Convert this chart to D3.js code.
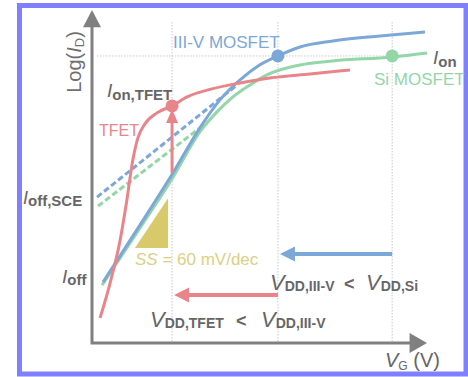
<!DOCTYPE html>
<html><head><meta charset="utf-8">
<script src="https://cdn.jsdelivr.net/npm/d3@7"></script>
<style>html,body{margin:0;padding:0;background:#fff;}svg{display:block;font-family:"Liberation Sans",Arial,sans-serif;}</style>
</head><body>
<script>
// Schematic data in arbitrary units: V_G (0-10) and log(I_D) (0-10)
const blueVG  = [0.33,1.43,2.42,3.22,3.82,4.42,4.96,5.55,6.21,7.19,8.60,9.94];
const blueLog = [1.83,3.54,5.11,6.46,7.30,7.90,8.32,8.62,8.89,9.07,9.22,9.34];
const greenVG  = [0.30,1.43,2.42,3.22,3.73,4.21,4.72,5.22,6.21,7.19,8.96,10.0];
const greenLog = [1.74,3.45,4.98,6.34,6.94,7.39,7.75,8.05,8.35,8.47,8.59,8.71];
const redVG  = [0.24,0.54,0.84,1.04,1.22,1.37,1.58,1.94,2.39,2.84,3.58,4.42,5.31,6.51,7.70];
const redLog = [0.75,1.80,3.09,4.29,5.50,6.16,6.58,6.91,7.12,7.39,7.63,7.81,7.96,8.08,8.20];
const blueSceVG = [0.15,4.33], blueSceLog = [4.38,7.75];
const greenSceVG = [0.18,3.22], greenSceLog = [4.11,6.46];
const vdd = {tfet:2.39, iii:5.55, si:8.96};
const ionLevel = 8.62, ionTfet = 7.12, tfetArrowStart = 5.11;
const triVG = [1.28,2.27,2.27], triLog = [2.85,2.85,4.35];
const blueArrowLog = 2.67, redArrowLog = 1.44;

const W=468,H=377;
const x=d3.scaleLinear().domain([0,10]).range([92,427]);
const y=d3.scaleLinear().domain([0,10]).range([343,10]);
const svg=d3.select("body").append("svg").attr("width",W).attr("height",H);

const C={blue:"#7ca8d8",green:"#93d6a7",red:"#e8858a",grid:"#c8c8c8",axis:"#808080",text:"#666",yellow:"#d8c96a",ytext:"#dccf85",border:"#8080ff"};

svg.append("rect").attr("x",19.5).attr("y",5.5).attr("width",446.5).attr("height",368.5)
  .attr("fill","#fff").attr("stroke",C.border).attr("stroke-width",5);

// guides
[vdd.tfet,vdd.iii,vdd.si].forEach(v=>{
  svg.append("line").attr("x1",x(v)).attr("x2",x(v)).attr("y1",y(9.64)).attr("y2",y(0))
    .attr("stroke",C.grid).attr("stroke-width",1).attr("stroke-dasharray","1.5,1.5");
});
svg.append("line").attr("x1",x(0.15)).attr("x2",x(9.5)).attr("y1",y(ionLevel)).attr("y2",y(ionLevel))
  .attr("stroke",C.grid).attr("stroke-width",1).attr("stroke-dasharray","1.5,1.5");

// yellow triangle
svg.append("path").attr("d",d3.line()(triVG.map((v,i)=>[x(v),y(triLog[i])]))+"Z").attr("fill",C.yellow);

const line=d3.line().x(d=>x(d[0])).y(d=>y(d[1])).curve(d3.curveMonotoneX);
const zip=(a,b)=>a.map((v,i)=>[v,b[i]]);

// dashed SCE lines
svg.append("path").attr("d",line(zip(greenSceVG,greenSceLog))).attr("fill","none")
  .attr("stroke",C.green).attr("stroke-width",3).attr("stroke-dasharray","6,3");
svg.append("path").attr("d",line(zip(blueSceVG,blueSceLog))).attr("fill","none")
  .attr("stroke",C.blue).attr("stroke-width",3).attr("stroke-dasharray","6,3");

svg.append("path").attr("d",line(zip(greenVG,greenLog))).attr("fill","none").attr("stroke",C.green).attr("stroke-width",3);
svg.append("path").attr("d",line(zip(blueVG,blueLog))).attr("fill","none").attr("stroke",C.blue).attr("stroke-width",3);
svg.append("path").attr("d",line(zip(redVG,redLog))).attr("fill","none").attr("stroke",C.red).attr("stroke-width",3);

// TFET up arrow
svg.append("line").attr("x1",x(vdd.tfet)).attr("x2",x(vdd.tfet)).attr("y1",y(tfetArrowStart)).attr("y2",y(ionTfet)+12)
  .attr("stroke",C.red).attr("stroke-width",3);
svg.append("path").attr("d",`M${x(vdd.tfet)},${y(ionTfet)+3}L${x(vdd.tfet)-6},${y(ionTfet)+17}L${x(vdd.tfet)+6},${y(ionTfet)+17}Z`).attr("fill",C.red);

// dots
svg.append("circle").attr("cx",x(vdd.iii)).attr("cy",y(ionLevel)).attr("r",6.5).attr("fill",C.blue);
svg.append("circle").attr("cx",x(vdd.si)).attr("cy",y(ionLevel)).attr("r",6.5).attr("fill",C.green);
svg.append("circle").attr("cx",x(vdd.tfet)).attr("cy",y(ionTfet)).attr("r",6.5).attr("fill",C.red);

// horizontal arrows
function hArrow(from,to,lv,col){
  const yy=y(lv), tip=x(to)+2;
  svg.append("line").attr("x1",x(from)).attr("x2",tip+12).attr("y1",yy).attr("y2",yy).attr("stroke",col).attr("stroke-width",4);
  svg.append("path").attr("d",`M${tip},${yy}L${tip+15},${yy-7.5}L${tip+15},${yy+7.5}Z`).attr("fill",col);
}
hArrow(vdd.si,vdd.iii,blueArrowLog,C.blue);
hArrow(vdd.iii,vdd.tfet,redArrowLog,C.red);

// axes
svg.append("path").attr("d",`M${x(0)},${y(9.5)}V${y(0)}H${x(9.5)}`).attr("fill","none").attr("stroke",C.axis).attr("stroke-width",3);
svg.append("path").attr("d",`M${x(0)},${y(10)}L${x(0)-9},${y(9.48)}L${x(0)+9},${y(9.48)}Z`).attr("fill",C.axis);
svg.append("path").attr("d",`M${x(10)},${y(0)}L${x(9.48)},${y(0)-10}L${x(9.48)},${y(0)+10}Z`).attr("fill",C.axis);

// text helper
function rich(px,py,parts,col,anchor){
  const t=svg.append("text").attr("x",px).attr("y",py).attr("fill",col).attr("text-anchor",anchor||"start");
  parts.forEach(p=>{
    const s=t.append("tspan").text(p.t).attr("font-size",p.s);
    if(p.i) s.attr("font-style","italic");
    if(p.b) s.attr("font-weight","bold");
    if(p.dy) s.attr("dy",p.dy);
    if(p.x!==undefined) s.attr("x",p.x);
  });
  return t;
}
const T=C.text;
rich(107,97,[{t:"I",s:19,i:1},{t:"on,TFET",s:15,b:1,dy:3}],T);
rich(99,136,[{t:"TFET",s:16}],C.red);
rich(173,48,[{t:"III-V MOSFET",s:17}],C.blue);
rich(433,64,[{t:"I",s:19,i:1},{t:"on",s:15,b:1,dy:3}],T);
rich(374,85,[{t:"Si MOSFET",s:17}],C.green);
rich(23,204,[{t:"I",s:18,i:1},{t:"off,SCE",s:15,b:1,dy:2}],T);
rich(62,283,[{t:"I",s:19,i:1},{t:"off",s:15,b:1,dy:2}],T);
rich(135,265,[{t:"SS",s:17,i:1},{t:" = 60 mV/dec",s:17}],C.ytext);
rich(270,290,[{t:"V",s:22,i:1},{t:"DD,III-V",s:14,b:1,dy:1},{t:"<",s:18,b:1,dy:-1,x:344},{t:"V",s:22,i:1,x:366},{t:"DD,Si",s:14,b:1,dy:1}],T);
rich(150,327,[{t:"V",s:22,i:1},{t:"DD,TFET",s:14,b:1,dy:1},{t:"<",s:18,b:1,dy:-1,x:236},{t:"V",s:22,i:1,x:261},{t:"DD,III-V",s:14,b:1,dy:1}],T);
rich(385,367,[{t:"V",s:20,i:1},{t:"G",s:12,dy:3},{t:"  (V)",s:20,dy:-3}],T);
const lg=rich(0,0,[{t:"Log(",s:20},{t:"I",s:20,i:1},{t:"D",s:13,dy:3},{t:")",s:20,dy:-3}],"#707070");
lg.attr("transform","translate(81,62) rotate(-90)").attr("text-anchor","middle");
</script>
</body></html>
